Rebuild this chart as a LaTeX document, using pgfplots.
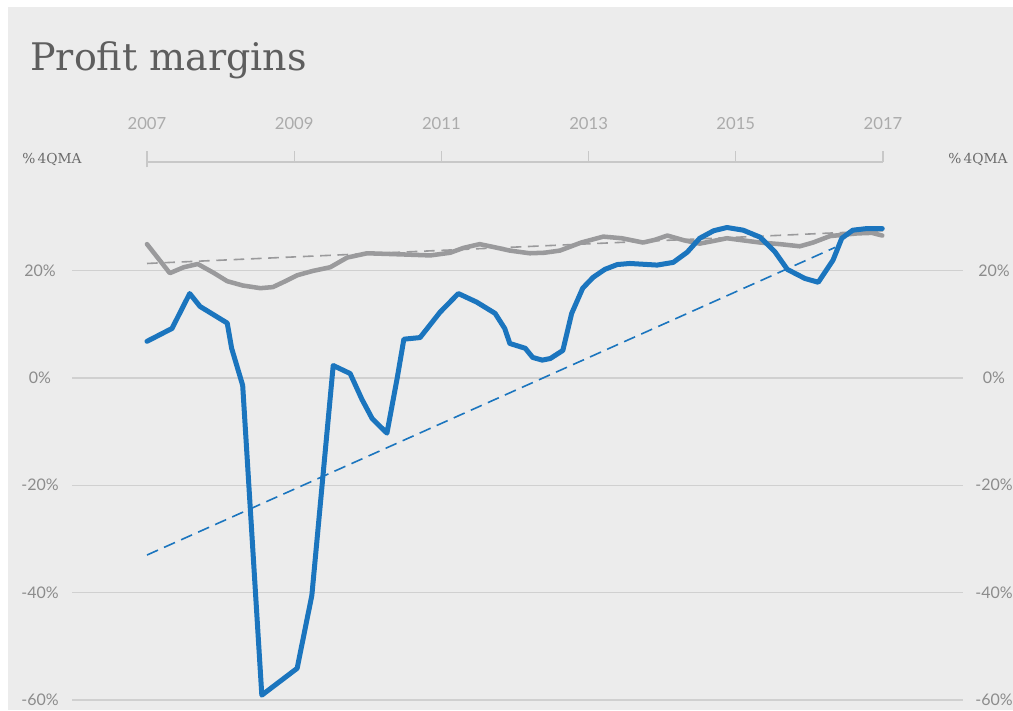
\documentclass[border=0pt]{standalone}
\usepackage{pgfplots}
\pgfplotsset{compat=1.18}
\usepackage{fontspec}
\setmainfont{Lato}
\newfontfamily\slab{DejaVu Serif}
\definecolor{bg}{HTML}{ECECEC}
\definecolor{blueline}{HTML}{1B75BE}
\definecolor{grayline}{HTML}{9A9A9C}
\definecolor{gridc}{HTML}{D0D0D0}
\definecolor{axc}{HTML}{C8C8C8}
\definecolor{yearc}{HTML}{ABABAB}
\definecolor{labc}{HTML}{8C8C8C}
\definecolor{titlec}{HTML}{5E5E5E}
\definecolor{unitc}{HTML}{6A6A6A}

\begin{document}
\begin{tikzpicture}
\useasboundingbox (0pt,0pt) rectangle (759.75pt,532.5pt);
\clip (0pt,0pt) rectangle (759.75pt,532.5pt);
\fill[white] (0pt,0pt) rectangle (759.75pt,532.5pt);
\fill[bg] (6pt,0pt) rectangle (759.75pt,527.25pt);
\node[anchor=base west, font=\slab\fontsize{28.5}{30}\selectfont, text=titlec, inner sep=0pt] at (22.5pt,479.25pt) {Profit margins};
\node[font=\slab\fontsize{10.3}{12}\selectfont, text=unitc, inner sep=0pt] at (39pt,412.5pt) {\%\,4QMA};
\node[font=\slab\fontsize{10.3}{12}\selectfont, text=unitc, inner sep=0pt] at (733.5pt,412.5pt) {\%\,4QMA};

\begin{axis}[
  at={(54pt,7.5pt)}, anchor=south west,
  scale only axis, width=668.25pt, height=403.5pt,
  xmin=2005.981, xmax=2018.087, ymin=-60, ymax=40.2,
  axis line style={draw=none},
  xtick=\empty,
  ytick={-60,-40,-20,0,20},
  yticklabels={-60\%,-40\%,-20\%,0\%,20\%},
  ymajorgrids, grid style={gridc, line width=1pt},
  major tick length=0pt, tick style={draw=none},
  yticklabel style={anchor=center, xshift=-24pt, font=\fontsize{12}{14}\selectfont, text=labc},
  clip=false,
]
% top time axis
\draw[axc, line width=1pt] (axis cs:2007,40.2) -- (axis cs:2017,40.2);
\draw[axc, line width=1pt] (axis cs:2007,39.2) -- (axis cs:2007,42.2);
\draw[axc, line width=1pt] (axis cs:2009,40.2) -- (axis cs:2009,42.2);
\draw[axc, line width=1pt] (axis cs:2011,40.2) -- (axis cs:2011,42.2);
\draw[axc, line width=1pt] (axis cs:2013,40.2) -- (axis cs:2013,42.2);
\draw[axc, line width=1pt] (axis cs:2015,40.2) -- (axis cs:2015,42.2);
\draw[axc, line width=1pt] (axis cs:2017,40.2) -- (axis cs:2017,42.2);
\node[font=\fontsize{12.5}{14}\selectfont, text=yearc] at (axis cs:2007,47.3) {2007};
\node[font=\fontsize{12.5}{14}\selectfont, text=yearc] at (axis cs:2009,47.3) {2009};
\node[font=\fontsize{12.5}{14}\selectfont, text=yearc] at (axis cs:2011,47.3) {2011};
\node[font=\fontsize{12.5}{14}\selectfont, text=yearc] at (axis cs:2013,47.3) {2013};
\node[font=\fontsize{12.5}{14}\selectfont, text=yearc] at (axis cs:2015,47.3) {2015};
\node[font=\fontsize{12.5}{14}\selectfont, text=yearc] at (axis cs:2017,47.3) {2017};

% trend lines
\addplot[grayline, line width=1.2pt, dash pattern=on 8pt off 5pt] coordinates {(2007,21.3) (2017,27.4)};
\addplot[blueline, line width=1.2pt, dash pattern=on 9pt off 5pt] coordinates {(2007,-33) (2016.35,24.3)};

% gray series
\addplot[grayline, line width=3.4pt, line join=round, line cap=round] coordinates {
(2007.00,24.9) (2007.31,19.5) (2007.50,20.6) (2007.69,21.2) (2007.90,19.6) (2008.09,18.0)
(2008.30,17.2) (2008.54,16.7) (2008.71,16.9) (2008.88,18.0) (2009.04,19.1) (2009.25,19.9) (2009.49,20.6)
(2009.72,22.4) (2009.99,23.2) (2010.44,23.0) (2010.85,22.8) (2011.12,23.3) (2011.30,24.2)
(2011.52,24.9) (2011.73,24.3) (2011.93,23.7) (2012.20,23.2) (2012.40,23.3) (2012.61,23.7)
(2012.90,25.2) (2013.20,26.3) (2013.45,26.0) (2013.74,25.2) (2013.90,25.7) (2014.07,26.5)
(2014.30,25.6) (2014.51,25.0) (2014.70,25.5) (2014.88,26.0) (2015.10,25.6) (2015.33,25.2)
(2015.60,24.9) (2015.87,24.5) (2016.05,25.2) (2016.28,26.4) (2016.65,26.9) (2016.85,27.0) (2016.99,26.5)
};

% blue series
\addplot[blueline, line width=3.75pt, line join=round, line cap=round] coordinates {
(2007.00,6.8) (2007.34,9.2) (2007.58,15.7) (2007.72,13.3) (2008.09,10.2) (2008.15,5.5)
(2008.30,-1.4) (2008.56,-59.1) (2009.04,-54.1) (2009.24,-40.5) (2009.53,2.3) (2009.76,0.8)
(2009.92,-4.0) (2010.06,-7.6) (2010.26,-10.3) (2010.40,0.0) (2010.49,7.2) (2010.71,7.5)
(2010.98,12.2) (2011.23,15.7) (2011.48,14.1) (2011.73,12.0) (2011.86,9.2) (2011.93,6.4)
(2012.14,5.5) (2012.24,3.8) (2012.37,3.3) (2012.48,3.6) (2012.65,5.1) (2012.77,12.0)
(2012.92,16.7) (2013.06,18.7) (2013.22,20.2) (2013.39,21.1) (2013.56,21.3) (2013.93,21.0)
(2014.15,21.5) (2014.34,23.4) (2014.51,26.0) (2014.70,27.4) (2014.88,28.0) (2015.10,27.5)
(2015.33,26.2) (2015.53,23.5) (2015.70,20.2) (2015.94,18.5) (2016.12,17.8) (2016.32,21.9)
(2016.44,26.0) (2016.59,27.5) (2016.78,27.8) (2016.99,27.8)
};
\end{axis}

\begin{axis}[
  at={(54pt,7.5pt)}, anchor=south west,
  scale only axis, width=668.25pt, height=403.5pt,
  xmin=2005.981, xmax=2018.087, ymin=-60, ymax=40.2,
  axis line style={draw=none},
  xtick=\empty,
  ytick={-60,-40,-20,0,20},
  yticklabels={-60\%,-40\%,-20\%,0\%,20\%},
  yticklabel pos=right,
  major tick length=0pt, tick style={draw=none},
  yticklabel style={anchor=center, xshift=23.25pt, font=\fontsize{12}{14}\selectfont, text=labc},
]
\end{axis}
\end{tikzpicture}
\end{document}
